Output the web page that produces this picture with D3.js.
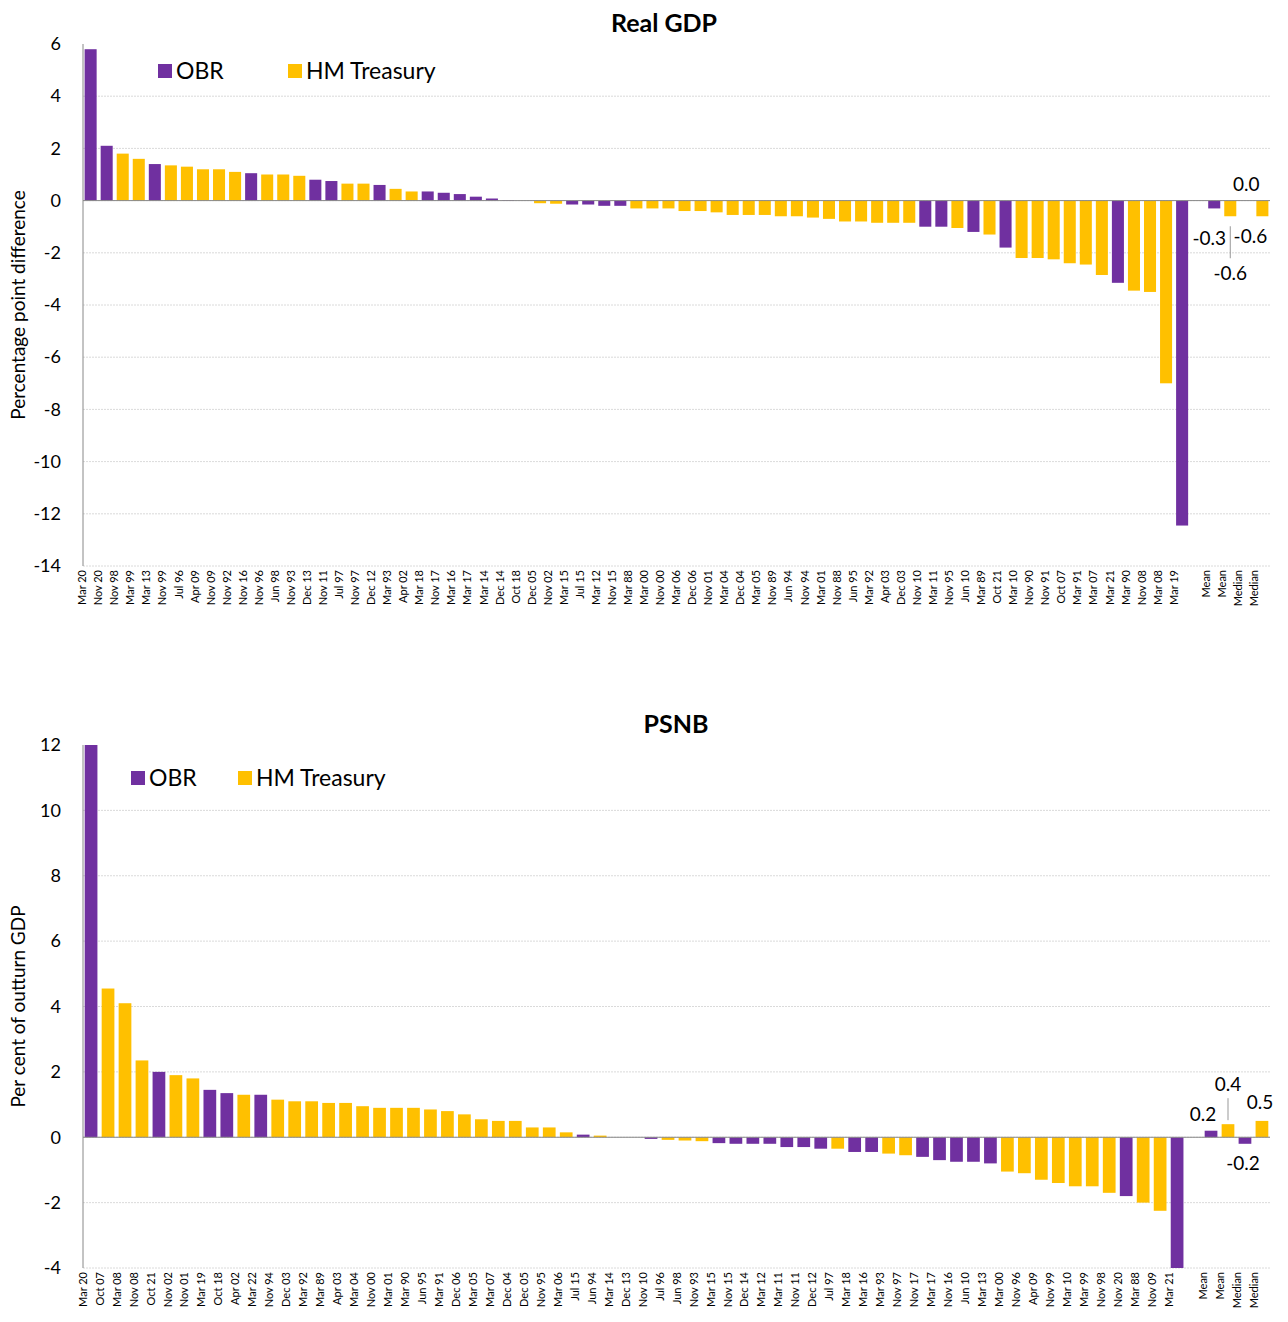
<!DOCTYPE html>
<html><head><meta charset="utf-8">
<script src="https://cdn.jsdelivr.net/npm/d3@7"></script>
<style>body{margin:0;background:#fff;font-family:"Lato","Open Sans",sans-serif;}</style>
</head><body><svg id="c" width="1288" height="1322"></svg>
<script>
const gdpCats=["Mar 20","Nov 20","Nov 98","Mar 99","Mar 13","Nov 99","Jul 96","Apr 09","Nov 09","Nov 92","Nov 16","Nov 96","Jun 98","Nov 93","Dec 13","Nov 11","Jul 97","Nov 97","Dec 12","Mar 93","Apr 02","Mar 18","Nov 17","Mar 16","Mar 17","Mar 14","Dec 14","Oct 18","Dec 05","Nov 02","Mar 15","Jul 15","Mar 12","Nov 15","Mar 88","Mar 00","Nov 00","Mar 06","Dec 06","Nov 01","Mar 04","Dec 04","Mar 05","Nov 89","Jun 94","Nov 94","Mar 01","Nov 88","Jun 95","Mar 92","Apr 03","Dec 03","Nov 10","Mar 11","Nov 95","Jun 10","Mar 89","Oct 21","Mar 10","Nov 90","Nov 91","Oct 07","Mar 91","Mar 07","Mar 21","Mar 90","Nov 08","Mar 08","Mar 19","","Mean","Mean ","Median","Median "];
const gdpVals=[5.8,2.1,1.8,1.6,1.4,1.35,1.3,1.2,1.2,1.1,1.05,1.0,1.0,0.95,0.8,0.75,0.65,0.65,0.6,0.45,0.35,0.35,0.3,0.25,0.15,0.08,0.02,0.0,-0.1,-0.12,-0.15,-0.15,-0.2,-0.2,-0.3,-0.3,-0.3,-0.4,-0.4,-0.45,-0.55,-0.55,-0.55,-0.6,-0.6,-0.65,-0.7,-0.8,-0.8,-0.85,-0.85,-0.85,-1.0,-1.0,-1.05,-1.2,-1.3,-1.8,-2.2,-2.2,-2.25,-2.4,-2.45,-2.85,-3.15,-3.45,-3.5,-7.0,-12.45,null,-0.3,-0.6,0.0,-0.6];
const gdpSrc="PPYYPYYYYYPYYYPPYYPYYPPPPPPPYYPPPPYYYYYYYYYYYYYYYYYYPPYPYPYYYYYYPYYYP-PYPY";
const psnbCats=["Mar 20","Oct 07","Mar 08","Nov 08","Oct 21","Nov 02","Nov 01","Mar 19","Oct 18","Apr 02","Mar 22","Nov 94","Dec 03","Mar 92","Mar 89","Apr 03","Mar 04","Nov 00","Mar 01","Mar 90","Jun 95","Mar 91","Dec 06","Mar 05","Mar 07","Dec 04","Dec 05","Nov 95","Mar 06","Jul 15","Jun 94","Mar 14","Dec 13","Nov 10","Jul 96","Jun 98","Nov 93","Mar 15","Nov 15","Dec 14","Mar 12","Mar 11","Nov 11","Dec 12","Jul 97","Mar 18","Mar 16","Mar 93","Nov 97","Nov 17","Mar 17","Nov 16","Jun 10","Mar 13","Mar 00","Nov 96","Apr 09","Nov 99","Mar 10","Mar 99","Nov 98","Nov 20","Mar 88","Nov 09","Mar 21","","Mean","Mean ","Median","Median "];
const psnbVals=[12.5,4.55,4.1,2.35,2.0,1.9,1.8,1.45,1.35,1.3,1.3,1.15,1.1,1.1,1.05,1.05,0.95,0.9,0.9,0.9,0.85,0.8,0.7,0.55,0.5,0.5,0.3,0.3,0.15,0.08,0.05,0.0,0.0,-0.05,-0.08,-0.1,-0.12,-0.18,-0.2,-0.2,-0.2,-0.3,-0.3,-0.35,-0.35,-0.45,-0.45,-0.5,-0.55,-0.6,-0.7,-0.75,-0.75,-0.8,-1.05,-1.1,-1.3,-1.4,-1.5,-1.5,-1.7,-1.8,-2.0,-2.25,-4.3,null,0.2,0.4,-0.2,0.5];
const psnbSrc="PYYYPYYPPYPYYYYYYYYYYYYYYYYYYPYPPPYYYPPPPPPPYPPYYPPPPPYYYYYYYPYYP-PYPY";
const gdpTicks=[6,4,2,0,-2,-4,-6,-8,-10,-12,-14];
const psnbTicks=[12,10,8,6,4,2,0,-2,-4];
const COL={P:"#7030A0",Y:"#FFC000"};
const svg=d3.select("#c");
function chart(o){
  const g=svg.append("g");
  const x=d3.scaleBand().domain(o.cats).range([o.x0,o.x1]).paddingInner(0.25).paddingOuter(0.1);
  const y=d3.scaleLinear().domain(o.dom).range([o.y1,o.y0]);
  g.append("defs").append("clipPath").attr("id","cl"+o.id).append("rect").attr("x",o.x0).attr("y",o.y0).attr("width",o.x1-o.x0).attr("height",o.y1-o.y0);
  o.ticks.forEach(t=>{ if(t!==o.dom[1]) g.append("line").attr("x1",o.x0).attr("x2",o.x1).attr("y1",y(t)).attr("y2",y(t)).attr("stroke","#d0d0d0").attr("stroke-dasharray","2,1").attr("stroke-width",0.8);});
  g.append("g").attr("clip-path",`url(#cl${o.id})`).selectAll("rect").data(o.vals.map((v,i)=>({v,c:o.cats[i],s:o.src[i]})).filter(d=>d.v!==null))
   .join("rect").attr("x",d=>x(d.c)).attr("width",x.bandwidth()).attr("y",d=>y(Math.max(0,d.v))).attr("height",d=>Math.abs(y(d.v)-y(0))).attr("fill",d=>COL[d.s]);
  g.append("line").attr("x1",o.x0).attr("x2",o.x1).attr("y1",y(0)).attr("y2",y(0)).attr("stroke","#888");
  g.append("line").attr("x1",o.x0).attr("x2",o.x0).attr("y1",o.y0).attr("y2",o.y1).attr("stroke","#888");
  const ya=g.append("g").attr("transform",`translate(${o.x0},0)`).call(d3.axisLeft(y).tickValues(o.ticks).tickFormat(d=>String(d)).tickSize(0).tickPadding(22));
  ya.select(".domain").remove();
  ya.selectAll("text").attr("font-size",18).attr("font-family","Lato").attr("fill","#000");
  const xa=g.append("g").attr("transform",`translate(0,${o.y1})`).call(d3.axisBottom(x).tickSize(0).tickPadding(4));
  xa.select(".domain").remove();
  xa.selectAll("text").attr("font-size",11).attr("font-family","Lato").attr("fill","#000").attr("transform","rotate(-90)").attr("text-anchor","end").attr("dx","-4").attr("dy","-0.4em").attr("y",0);
  g.append("text").attr("x",o.tx).attr("y",o.ty).attr("text-anchor","middle").attr("font-size",25).attr("font-weight","bold").attr("font-family","Lato").text(o.title);
  g.append("text").attr("transform",`translate(${o.ylx},${(o.y0+o.y1)/2}) rotate(-90)`).attr("text-anchor","middle").attr("font-size",19).attr("font-family","Lato").text(o.ylab);
  o.legend.forEach(L=>{g.append("rect").attr("x",L.x).attr("y",L.y-7).attr("width",14).attr("height",14).attr("fill",COL[L.s]);
    g.append("text").attr("x",L.x+18).attr("y",L.y+8).attr("font-size",23).attr("font-family","Lato").text(L.t);});
  o.labels.forEach(L=>{const cx=x(o.cats[L.i])+x.bandwidth()/2;
    g.append("text").attr("x",cx+L.dx).attr("y",y(o.vals[L.i])+L.dy).attr("text-anchor",L.a||"middle").attr("font-size",19).attr("font-family","Lato").text(L.t);
    if(L.line) g.append("line").attr("x1",cx).attr("x2",cx).attr("y1",y(o.vals[L.i])+L.line[0]).attr("y2",y(o.vals[L.i])+L.line[1]).attr("stroke","#999");});
}
chart({id:1,cats:gdpCats,vals:gdpVals,src:gdpSrc,dom:[-14,6],ticks:gdpTicks,x0:83,x1:1270,y0:44,y1:566,title:"Real GDP",tx:664,ty:32,ylab:"Percentage point difference",ylx:25,
 legend:[{x:158,y:71,s:"P",t:"OBR"},{x:288,y:71,s:"Y",t:"HM Treasury"}],
 labels:[{i:70,t:"-0.3",dx:-5,dy:37},{i:72,t:"0.0",dx:0,dy:-10},{i:71,t:"-0.6",dx:0,dy:64,line:[10,42]},{i:73,t:"-0.6",dx:-12,dy:27}]});
chart({id:2,cats:psnbCats,vals:psnbVals,src:psnbSrc,dom:[-4,12],ticks:psnbTicks,x0:83,x1:1270,y0:745,y1:1268,title:"PSNB",tx:676,ty:733,ylab:"Per cent of outturn GDP",ylx:25,
 legend:[{x:131,y:778,s:"P",t:"OBR"},{x:238,y:778,s:"Y",t:"HM Treasury"}],
 labels:[{i:66,t:"0.2",dx:-8,dy:-10},{i:67,t:"0.4",dx:0,dy:-33,line:[-4,-26]},{i:68,t:"-0.2",dx:-2,dy:26},{i:69,t:"0.5",dx:-2,dy:-12}]});
</script></body></html>
